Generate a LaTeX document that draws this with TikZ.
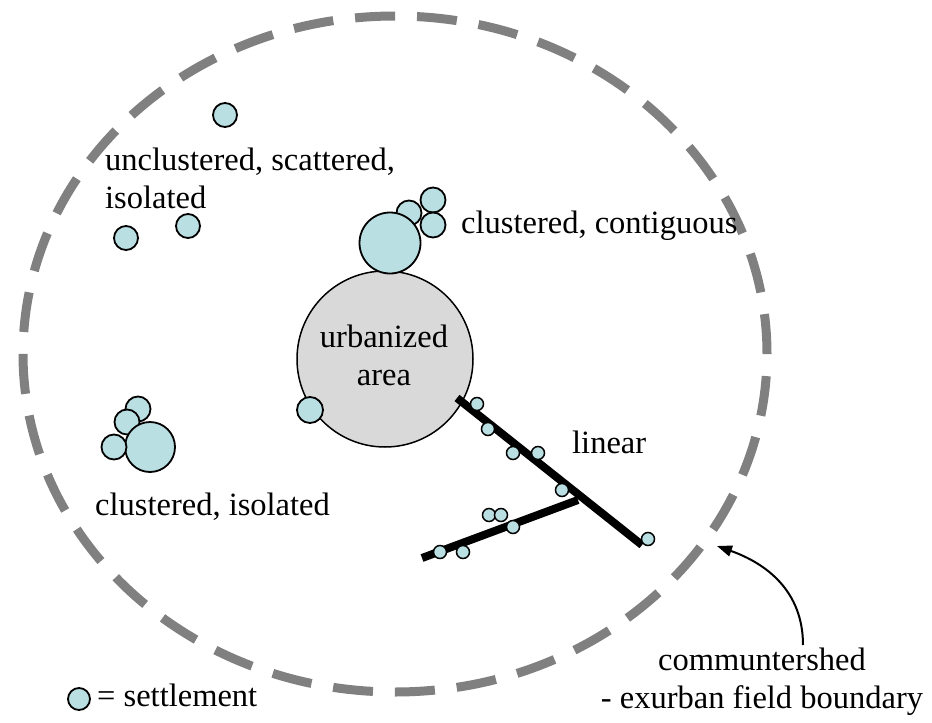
\documentclass[tikz,border=0pt]{standalone}
\usepackage{fontspec}
\setmainfont{Liberation Serif}
\usetikzlibrary{arrows.meta}
\definecolor{settle}{RGB}{185,223,227}
\definecolor{urban}{RGB}{217,217,217}
\definecolor{bound}{RGB}{128,128,128}
\begin{document}
\begin{tikzpicture}[x=1pt,y=-1pt,
  settlement/.style={circle,draw=black,fill=settle,line width=1.8pt,inner sep=0pt,minimum size=#1},
  minisettle/.style={circle,draw=black,fill=settle,line width=1.5pt,inner sep=0pt,minimum size=13pt},
  lbl/.style={font=\fontsize{32.5}{38}\selectfont,inner sep=0pt},
  road/.style={line width=8pt,black},
  boundary/.style={draw=bound,line width=9pt,dash pattern=on 40pt off 22pt}]
\useasboundingbox (0,0) rectangle (932,723);
\fill[white] (0,0) rectangle (932,723);
% boundary
\draw[boundary] (395,354) ellipse [x radius=372pt, y radius=338pt];
% unclustered
\node[settlement=24pt] (s1) at (225,115) {};
\node[settlement=24pt] (s2) at (126,238) {};
\node[settlement=24pt] (s3) at (188,226) {};
% clustered isolated
\node[settlement=25pt] (c1) at (138,409) {};
\node[settlement=25pt] (c2) at (127,422) {};
\node[settlement=50pt] (c3) at (150,447) {};
\node[settlement=25pt] (c4) at (114,447) {};
% urbanized area
\node[circle,draw=black,fill=urban,line width=1.5pt,minimum size=176pt,inner sep=0pt] (urb) at (385,359) {};
% clustered contiguous
\node[settlement=25pt] (k1) at (433,200) {};
\node[settlement=25pt] (k2) at (433,225) {};
\node[settlement=25pt] (k3) at (409,213) {};
\node[settlement=61pt] (k4) at (390,243) {};
\node[settlement=26pt] (k5) at (310,410) {};
% roads
\coordinate (r1a) at (457,398);
\coordinate (r1b) at (642,545);
\coordinate (r2a) at (578,500);
\coordinate (r2b) at (422,558);
\draw[road] (r1a) -- (r1b);
\draw[road] (r2a) -- (r2b);
\foreach \n/\p in {m1/{(477,404)},m2/{(488,429)},m3/{(513,453)},m4/{(538,453)},m5/{(562,490)},m6/{(648,539)},m7/{(489,515)},m8/{(501,515)},m9/{(513,527)},m10/{(440,552)},m11/{(463,552)}}
  \node[minisettle] (\n) at \p {};
% labels
\node[lbl,anchor=base west,align=left] (t1) at (105,208) {unclustered, scattered,\\isolated};
\node[lbl,anchor=base west] (t2) at (461,233) {clustered, contiguous};
\node[lbl,align=center,anchor=base] (t3) at (384,385) {urbanized\\area};
\node[lbl,anchor=base west] (t4) at (572,453) {linear};
\node[lbl,anchor=base west] (t5) at (95,515) {clustered, isolated};
\node[lbl,align=center,anchor=base] (t6) at (762,708) {communtershed\\- exurban field boundary};
% legend
\node[settlement=22pt] (leg) at (79,699) {};
\node[lbl,anchor=base west] (t7) at (97,706) {= settlement};
% arrow
\coordinate (atail) at (803,645);
\coordinate (ahead) at (717,546);
\draw[line width=2pt,-{Triangle[length=15pt,width=11pt]}] (atail) .. controls (803,590) and (765,563) .. (ahead);
\end{tikzpicture}
\end{document}
